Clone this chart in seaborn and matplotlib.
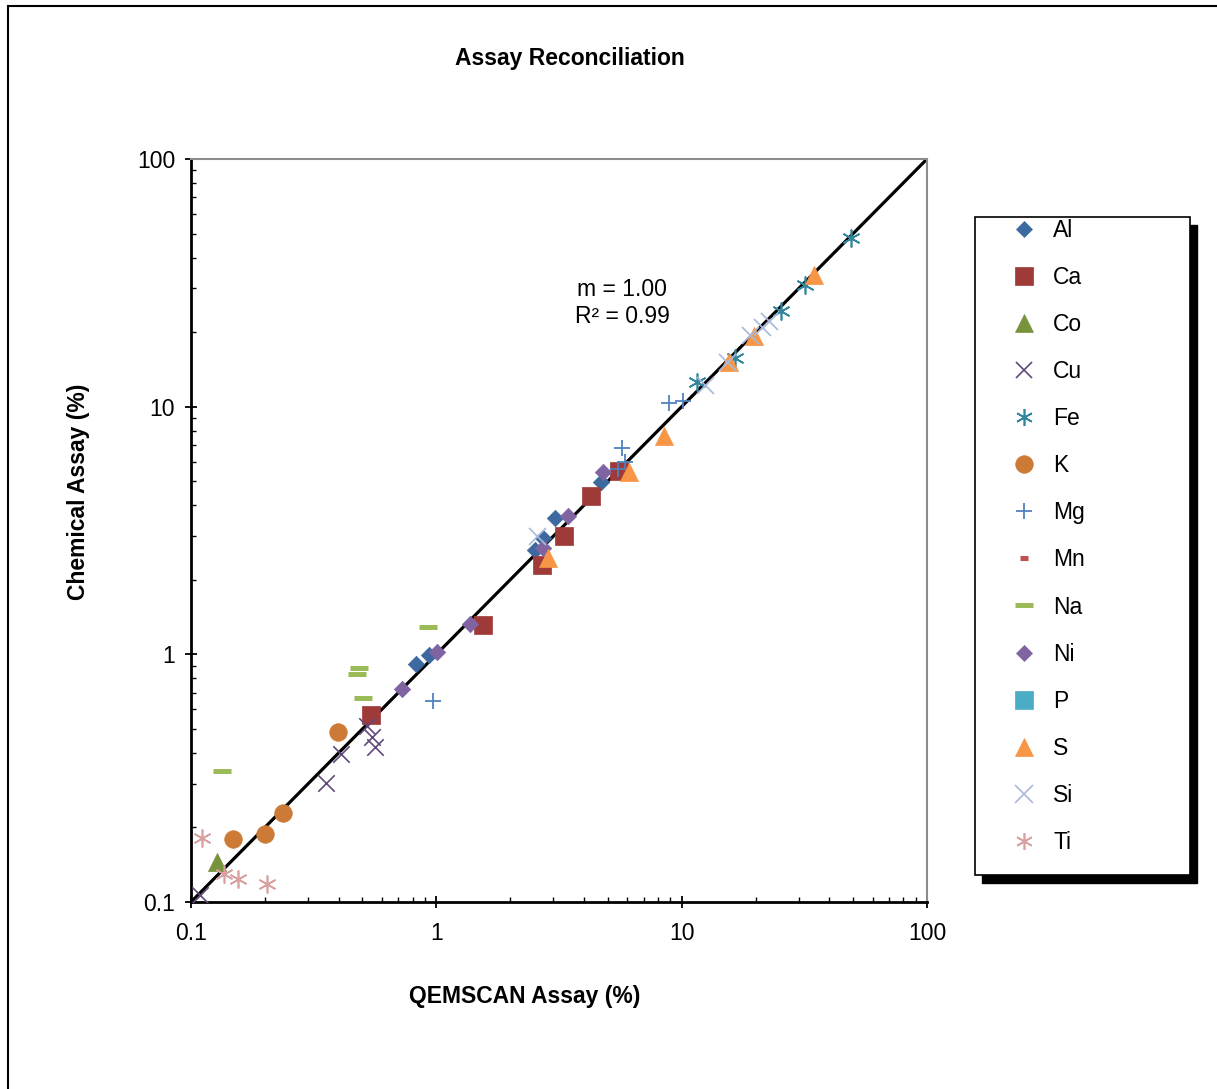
import numpy as np
import seaborn as sns
import matplotlib
matplotlib.use("Agg")
from matplotlib import pyplot as plt
from matplotlib.lines import Line2D
from matplotlib.patches import Rectangle

# QEMSCAN assay (x) vs chemical assay (y), in %, per element
al_x = [0.83, 0.93, 2.52, 2.72, 3.05, 4.69]
al_y = [0.91, 0.99, 2.64, 2.95, 3.55, 4.96]
ca_x = [0.54, 1.55, 2.70, 3.31, 4.27, 5.55]
ca_y = [0.57, 1.31, 2.30, 3.00, 4.36, 5.50]
co_x = [0.128]
co_y = [0.145]
cu_x = [0.109, 0.355, 0.408, 0.521, 0.547, 0.562]
cu_y = [0.107, 0.302, 0.396, 0.514, 0.463, 0.423]
fe_x = [11.6, 16.5, 25.4, 31.8, 49.0]
fe_y = [12.6, 15.7, 24.3, 31.0, 48.0]
k_x = [0.148, 0.200, 0.237, 0.397]
k_y = [0.180, 0.188, 0.229, 0.485]
mg_x = [0.969, 5.71, 5.88, 5.50, 8.88, 10.1]
mg_y = [0.649, 6.81, 5.98, 5.60, 10.35, 10.5]
mn_x = []
mn_y = []
na_x = [0.134, 0.484, 0.475, 0.502, 0.925]
na_y = [0.338, 0.881, 0.834, 0.667, 1.29]
ni_x = [0.724, 1.01, 1.37, 2.72, 3.44, 4.78]
ni_y = [0.724, 1.02, 1.33, 2.69, 3.62, 5.45]
p_x = []
p_y = []
s_x = [2.85, 6.10, 8.47, 15.6, 19.7, 34.6]
s_y = [2.45, 5.45, 7.62, 15.1, 19.3, 34.0]
si_x = [2.57, 12.4, 15.3, 19.0, 21.2, 22.7]
si_y = [3.00, 12.2, 15.1, 19.5, 21.0, 22.2]
ti_x = [0.111, 0.136, 0.155, 0.204]
ti_y = [0.181, 0.130, 0.124, 0.118]

elements = ["Al", "Ca", "Co", "Cu", "Fe", "K", "Mg", "Mn", "Na", "Ni", "P", "S", "Si", "Ti"]
xs = [al_x, ca_x, co_x, cu_x, fe_x, k_x, mg_x, mn_x, na_x, ni_x, p_x, s_x, si_x, ti_x]
ys = [al_y, ca_y, co_y, cu_y, fe_y, k_y, mg_y, mn_y, na_y, ni_y, p_y, s_y, si_y, ti_y]

# marker styling for each element (Excel-like)
star = (6, 2, 0)
markers = ["D", "s", "^", "x", star, "o", "+", "_", "_", "D", "s", "^", "x", star]
sizes = [70, 150, 170, 140, 150, 160, 120, 40, 150, 70, 150, 170, 150, 150]
widths = [0.5, 0.5, 0.5, 1.2, 1.2, 0.5, 1.3, 3.6, 3.6, 0.5, 0.5, 0.5, 1.2, 1.2]
colors = ["#3C6AA0", "#9E3A38", "#77933C", "#604A7B", "#31859C", "#CC7A35", "#4F81BD",
          "#C0504D", "#9BBB59", "#8064A2", "#4BACC6", "#F79646", "#A9B9D9", "#D9A0A0"]

sns.set_theme(style="white")
plt.rcParams['font.family'] = ['Liberation Sans', 'DejaVu Sans']
plt.rcParams['text.color'] = 'black'

FS = 16.5
W, H = 1217, 1089
fig = plt.figure(figsize=(W / 100, H / 100), dpi=100)
ax = fig.add_axes([191 / W, 1 - 902 / H, 736 / W, 743 / H])

# 1:1 line
sns.lineplot(x=[0.1, 100], y=[0.1, 100], color="black", linewidth=2.3, ax=ax, zorder=2)

for name, x, y, m, s, lw, c in zip(elements, xs, ys, markers, sizes, widths, colors):
    if len(x) == 0:
        continue
    filled = m in ("D", "s", "^", "o")
    if filled:
        sns.scatterplot(x=x, y=y, marker=m, s=s, color=c, edgecolor=c, linewidth=lw,
                        ax=ax, zorder=3)
    else:
        sns.scatterplot(x=x, y=y, marker=m, s=s, color=c, linewidth=lw, ax=ax, zorder=3)

ax.set_xscale("log")
ax.set_yscale("log")
ax.set_xlim(0.1, 100)
ax.set_ylim(0.1, 100)
ticks = [0.1, 1, 10, 100]
ax.set_xticks(ticks, labels=["0.1", "1", "10", "100"])
ax.set_yticks(ticks, labels=["0.1", "1", "10", "100"])
ax.xaxis.set_minor_formatter(matplotlib.ticker.NullFormatter())
ax.yaxis.set_minor_formatter(matplotlib.ticker.NullFormatter())
ax.tick_params(which="major", direction="inout", length=9, width=1.3, color="black",
               labelsize=FS, labelcolor="black", bottom=True, left=True)
ax.tick_params(axis="x", which="major", pad=10)
ax.tick_params(axis="y", which="major", pad=7)
ax.tick_params(which="minor", direction="in", length=3.5, width=1.0, color="black",
               bottom=True, left=True)
ax.set_xlabel("")
ax.set_ylabel("")
for side in ["left", "bottom"]:
    ax.spines[side].set_color("black")
    ax.spines[side].set_linewidth(2)
for side in ["top", "right"]:
    ax.spines[side].set_color("#8C8C8C")
    ax.spines[side].set_linewidth(1.5)

fig.text(622 / W, 1 - 303 / H, "m = 1.00\nR\u00b2 = 0.99", ha="center", va="center",
         fontsize=FS, linespacing=1.2, color="black")

fig.text(570 / W, 1 - 59 / H, "Assay Reconciliation", ha="center", va="center",
         fontsize=FS, fontweight="bold", color="black")
fig.text(525 / W, 1 - 997 / H, "QEMSCAN Assay (%)", ha="center", va="center",
         fontsize=FS, fontweight="bold", color="black")
fig.text(78 / W, 1 - 492 / H, "Chemical Assay (%)", ha="center", va="center",
         fontsize=FS, fontweight="bold", rotation=90, color="black")

# outer chart border (left and top visible)
fig.patches.append(Rectangle((8 / W, -0.1), 1.2, 1.1 - 6 / H, transform=fig.transFigure,
                             fill=False, edgecolor="black", linewidth=1.5))

# legend box with offset shadow
fig.patches.append(Rectangle((982 / W, 1 - 883 / H), 215 / W, 658 / H,
                             transform=fig.transFigure, facecolor="black",
                             edgecolor="black", zorder=1))
fig.patches.append(Rectangle((975 / W, 1 - 875 / H), 215 / W, 658 / H,
                             transform=fig.transFigure, facecolor="white",
                             edgecolor="black", linewidth=1.2, zorder=2))

handles = []
for name, m, s, lw, c in zip(elements, markers, sizes, widths, colors):
    handles.append(Line2D([0], [0], linestyle="", marker=m, markersize=np.sqrt(s),
                          markerfacecolor=c, markeredgecolor=c, markeredgewidth=lw))
leg = fig.legend(handles, elements, loc="upper left",
                 bbox_to_anchor=(1012.5 / W, 1 - 219 / H), frameon=False,
                 fontsize=FS, handlelength=1.0, handletextpad=0.77,
                 labelspacing=1.05, borderpad=0, borderaxespad=0)
for t in leg.get_texts():
    t.set_color("black")
leg.set_zorder(3)

fig.savefig("out.png", dpi=100)
